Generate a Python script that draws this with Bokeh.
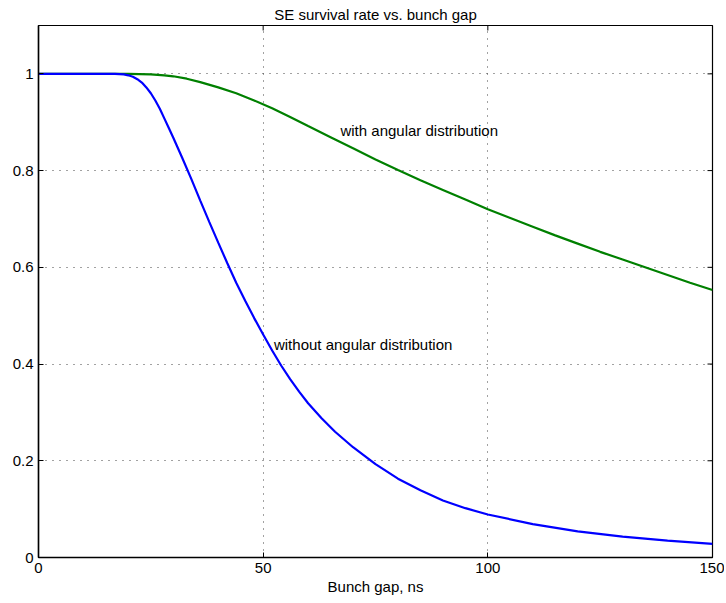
import math
from bokeh.plotting import figure
from bokeh.models import FixedTicker, Label, Range1d, Title
from bokeh.embed import file_html
from bokeh.resources import INLINE

# Data
gap_blue = [0, 5, 10, 15, 17, 19, 20, 21, 22, 23, 24, 25, 26, 27, 28, 29, 30, 32, 34, 36, 38,
            40, 42, 44, 46, 48, 50, 52, 54, 56, 58, 60, 63, 66, 70, 75, 80, 85, 90, 95, 100,
            110, 120, 130, 140, 150]
rate_without = [1, 1, 1, 1, 1, 0.999, 0.997, 0.994, 0.989, 0.982, 0.972, 0.960, 0.945, 0.928,
                0.908, 0.888, 0.868, 0.826, 0.783, 0.738, 0.694, 0.651, 0.609, 0.568, 0.531,
                0.495, 0.461, 0.428, 0.397, 0.369, 0.343, 0.319, 0.288, 0.260, 0.228, 0.193,
                0.163, 0.139, 0.118, 0.102, 0.089, 0.069, 0.054, 0.043, 0.035, 0.028]

gap_green = [0, 10, 20, 25, 28, 30, 33, 36, 40, 44, 48, 52, 56, 60, 65, 70, 75, 80, 85, 90, 95,
             100, 105, 110, 115, 120, 125, 130, 135, 140, 145, 150]
rate_with = [1, 1, 1, 0.999, 0.997, 0.995, 0.99, 0.983, 0.972, 0.96, 0.945, 0.929, 0.911,
             0.892, 0.869, 0.846, 0.823, 0.801, 0.78, 0.76, 0.74, 0.72, 0.702, 0.684, 0.666,
             0.649, 0.632, 0.616, 0.6, 0.584, 0.568, 0.553]

x_ticks = [0, 50, 100, 150]
y_ticks = [0, 0.2, 0.4, 0.6, 0.8, 1.0]
y_tick_labels = ["0", "0.2", "0.4", "0.6", "0.8", "1"]
x_max = 150
y_max = 1.1

title_text = "SE survival rate vs. bunch gap"
x_label = "Bunch gap, ns"
label_with = "with angular distribution"
label_without = "without angular distribution"

FONT = "Liberation Sans"
FS = "15px"

p = figure(width=724, height=601, output_backend="svg", toolbar_location=None,
           x_range=Range1d(0, x_max), y_range=Range1d(0, y_max),
           min_border_left=38, min_border_right=12, min_border_top=25, min_border_bottom=44)
p.background_fill_color = "white"
p.border_fill_color = "white"
p.outline_line_color = "black"
p.outline_line_width = 1.2

p.title = Title(text=title_text, align="center", text_font=FONT, text_font_size=FS,
                text_font_style="normal", text_color="black", standoff=6, offset=0)

# grid
p.xgrid.ticker = FixedTicker(ticks=x_ticks)
p.ygrid.ticker = FixedTicker(ticks=y_ticks)
for g in (p.xgrid[0], p.ygrid[0]):
    g.grid_line_color = "#444444"
    g.grid_line_dash = "1 6"
    g.grid_line_width = 1

p.line(gap_green, rate_with, line_color="#008000", line_width=2.2)
p.line(gap_blue, rate_without, line_color="#0000ff", line_width=2.2)

# axes
for ax in (p.xaxis[0], p.yaxis[0]):
    ax.major_tick_in = 5
    ax.major_tick_out = 0
    ax.minor_tick_line_color = None
    ax.axis_line_color = "black"
    ax.axis_line_width = 1.5
    ax.major_label_text_font = FONT
    ax.major_label_text_font_size = FS
    ax.major_label_text_color = "black"
    ax.axis_label_text_font = FONT
    ax.axis_label_text_font_size = FS
    ax.axis_label_text_font_style = "normal"
    ax.axis_label_text_color = "black"

p.xaxis[0].ticker = FixedTicker(ticks=x_ticks)
p.yaxis[0].ticker = FixedTicker(ticks=y_ticks)
p.yaxis[0].major_label_overrides = {t: s for t, s in zip(y_ticks, y_tick_labels)}
p.xaxis[0].major_label_standoff = 5
p.yaxis[0].major_label_standoff = 5
p.xaxis[0].axis_label = x_label
p.xaxis[0].axis_label_standoff = 2

# box-style inner tick marks on the top and right edges (clipped to the frame)
p.scatter(x=x_ticks, y=[y_max] * len(x_ticks), marker="dash", size=10,
          angle=math.pi / 2, line_color="black", line_width=1)
p.scatter(x=[x_max] * len(y_ticks), y=y_ticks, marker="dash", size=10,
          line_color="black", line_width=1)

# texts
p.add_layout(Label(x=67.2, y=0.882, text=label_with, text_font=FONT, text_font_size=FS,
                   text_baseline="middle", text_color="black"))
p.add_layout(Label(x=52.4, y=0.44, text=label_without, text_font=FONT, text_font_size=FS,
                   text_baseline="middle", text_color="black"))

open("out.html", "w").write(file_html(p, INLINE))
